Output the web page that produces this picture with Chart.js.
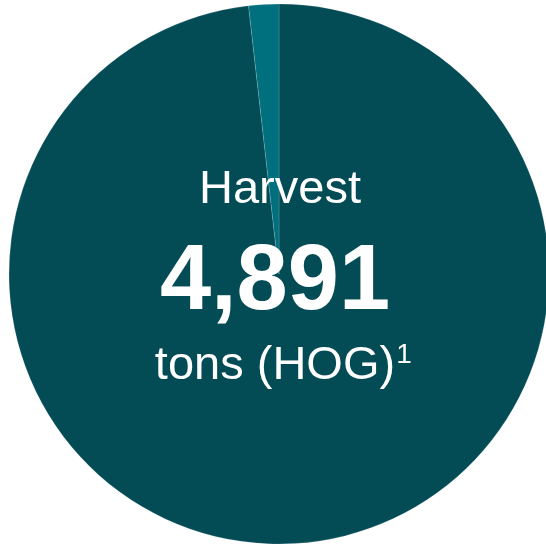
<!DOCTYPE html>
<html>
<head>
<meta charset="utf-8">
<script src="https://cdn.jsdelivr.net/npm/chart.js@4"></script>
<style>
  html, body { margin: 0; padding: 0; background: #fff; overflow: hidden; }
  #wrap { position: absolute; left: 0; top: 0; width: 558px; height: 548px; }
</style>
</head>
<body>
<div id="wrap"><canvas id="harvestChart"></canvas></div>
<script>
// Harvest split (share of total, %)
const labels = ['Main', 'Other'];
const shares = [98.2, 1.8];
const sliceColors = ['#034b55', '#00707e'];

// Centre text
const titleText = 'Harvest';
const totalText = '4,891';
const unitText = 'tons (HOG)';
const noteText = '1';

const centerText = {
    id: 'centerText',
    afterDraw(chart) {
        const ctx = chart.ctx;
        ctx.save();
        ctx.fillStyle = '#ffffff';
        ctx.textBaseline = 'alphabetic';
        ctx.textAlign = 'center';

        ctx.font = '47px "Liberation Sans", Arial, sans-serif';
        ctx.fillText(titleText, 280, 203);

        ctx.font = 'bold 92px "Liberation Sans", Arial, sans-serif';
        ctx.fillText(totalText, 275, 309);

        ctx.font = '47px "Liberation Sans", Arial, sans-serif';
        const w = ctx.measureText(unitText).width;
        ctx.textAlign = 'left';
        const x0 = 275 - w / 2;
        ctx.fillText(unitText, x0, 379);
        ctx.font = '28px "Liberation Sans", Arial, sans-serif';
        ctx.fillText(noteText, x0 + w + 1, 363);
        ctx.restore();
    }
};

const ctx = document.getElementById('harvestChart').getContext('2d');
new Chart(ctx, {
    type: 'pie',
    data: {
        labels: labels,
        datasets: [{
            data: shares,
            backgroundColor: sliceColors,
            borderColor: 'rgba(255,255,255,0.25)',
            borderWidth: 0.6
        }]
    },
    options: {
        responsive: true,
        maintainAspectRatio: false,
        animation: false,
        radius: 270,
        layout: { padding: 0 },
        plugins: {
            legend: { display: false },
            tooltip: { enabled: false }
        }
    },
    plugins: [centerText]
});
</script>
</body>
</html>
